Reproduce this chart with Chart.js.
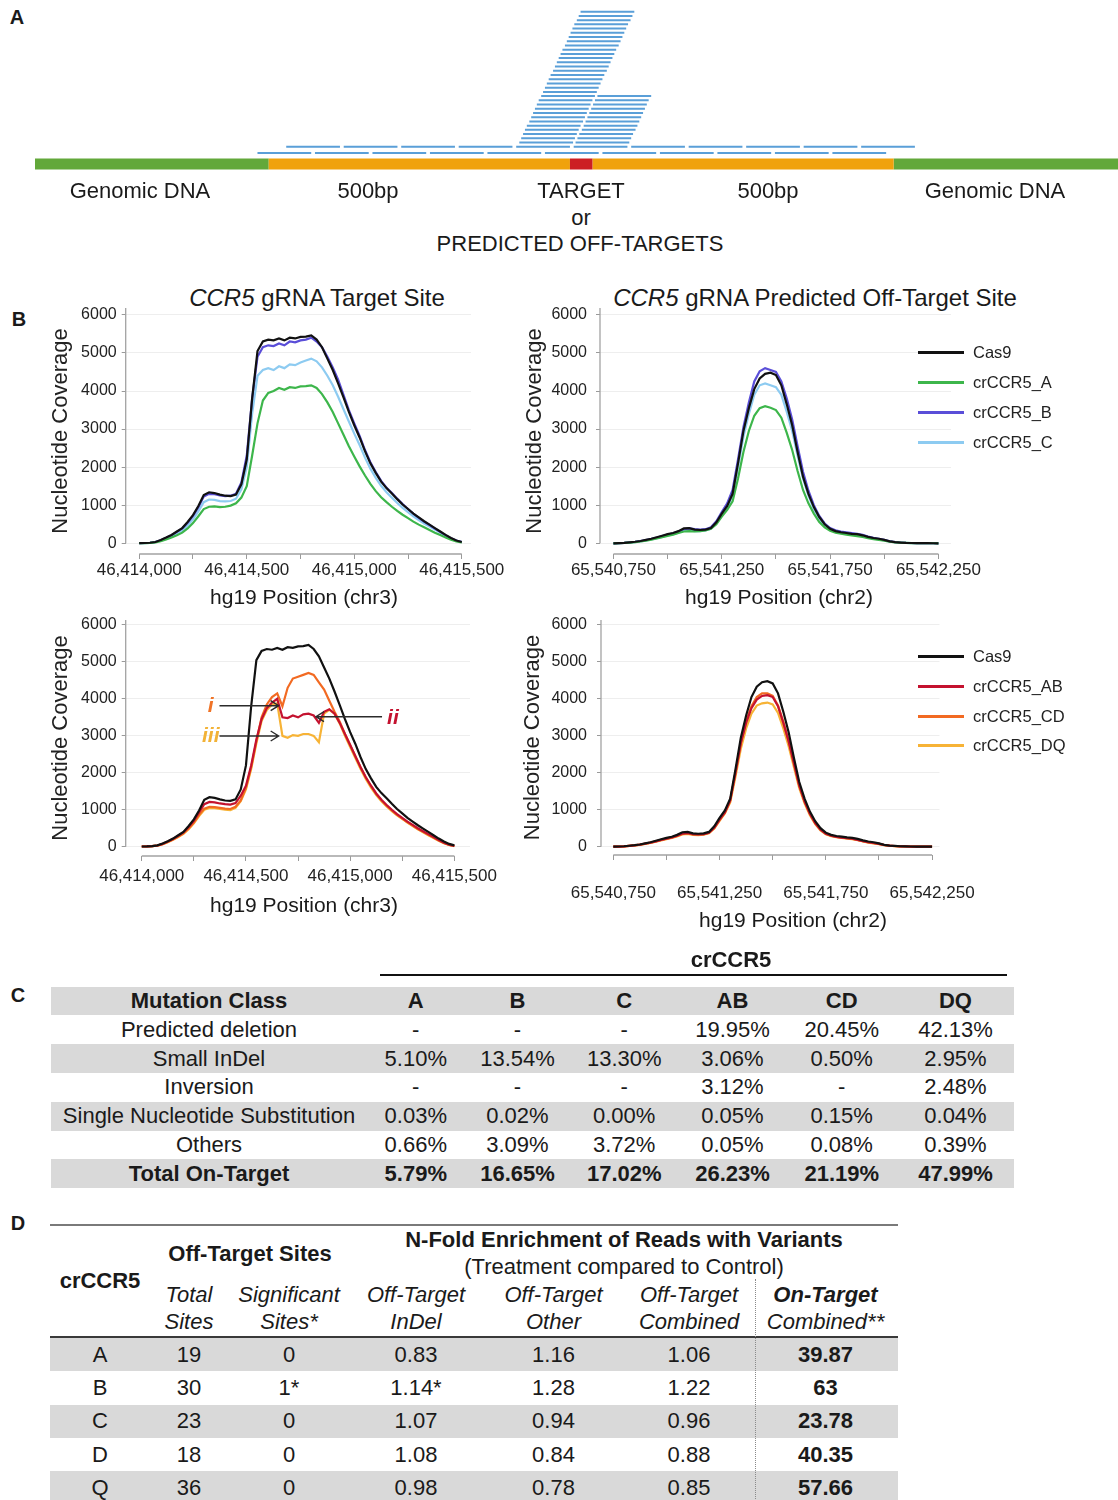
<!DOCTYPE html>
<html>
<head>
<meta charset="utf-8">
<script src="https://cdn.jsdelivr.net/npm/chart.js@4.4.0/dist/chart.umd.min.js"></script>
<style>
  body { margin: 0; background: #fff; }
  #page { position: relative; width: 1118px; height: 1500px; overflow: hidden;
          font-family: "Liberation Sans", Arial, sans-serif; color: #1a1a1a; }
  .abs { position: absolute; }
  .txt { position: absolute; transform: translate(-50%, -50%); white-space: nowrap; }
  .panel { position: absolute; transform: translate(-50%, -50%); font-weight: bold; font-size: 20px; }
  canvas { position: absolute; }
  table { position: absolute; border-collapse: collapse; table-layout: fixed; font-size: 22px; }
  td { padding: 0; text-align: center; white-space: nowrap; vertical-align: middle; }
  .grey { background: #d9d9d9; }
  .legend { position: absolute; font-size: 16.5px; color: #222; }
  .legend div { display: flex; align-items: center; }
  .legend span.sw { display: inline-block; width: 46px; height: 3px; margin-right: 9px; }
</style>
</head>
<body>
<div id="page">
  <!-- panel A -->
  <div class="panel" style="left:17px;top:17px">A</div>
  <canvas id="readsChart" width="1083" height="180" style="left:35px;top:0"></canvas>
  <div class="txt" style="left:140px;top:191px;font-size:22px">Genomic DNA</div>
  <div class="txt" style="left:368px;top:191px;font-size:22px">500bp</div>
  <div class="txt" style="left:581px;top:191px;font-size:22px">TARGET</div>
  <div class="txt" style="left:768px;top:191px;font-size:22px">500bp</div>
  <div class="txt" style="left:995px;top:191px;font-size:22px">Genomic DNA</div>
  <div class="txt" style="left:581px;top:218px;font-size:22px">or</div>
  <div class="txt" style="left:580px;top:244px;font-size:22px">PREDICTED OFF-TARGETS</div>

  <!-- panel B -->
  <div class="panel" style="left:19px;top:319px">B</div>
  <div class="txt" style="left:317px;top:298px;font-size:24px"><i>CCR5</i> gRNA Target Site</div>
  <div class="txt" style="left:815px;top:298px;font-size:24px"><i>CCR5</i> gRNA Predicted Off-Target Site</div>
  <canvas id="targetTop" width="472" height="302" style="left:48px;top:288px"></canvas>
  <canvas id="offTop" width="596" height="302" style="left:522px;top:288px"></canvas>
  <canvas id="targetBottom" width="472" height="300" style="left:48px;top:600px"></canvas>
  <canvas id="offBottom" width="598" height="320" style="left:520px;top:600px"></canvas>
  <div class="txt" style="left:304px;top:597px;font-size:21px">hg19 Position (chr3)</div>
  <div class="txt" style="left:779px;top:597px;font-size:21px">hg19 Position (chr2)</div>
  <div class="txt" style="left:304px;top:905px;font-size:21px">hg19 Position (chr3)</div>
  <div class="txt" style="left:793px;top:920px;font-size:21px">hg19 Position (chr2)</div>
  <div id="legendTop" class="legend" style="left:918px;top:337px"></div>
  <div id="legendBottom" class="legend" style="left:918px;top:642px"></div>

  <!-- panel C -->
  <div class="panel" style="left:18px;top:995px">C</div>
  <div class="txt" style="left:731px;top:960px;font-size:22px;font-weight:bold">crCCR5</div>
  <div class="abs" style="left:380px;top:974px;width:627px;height:2px;background:#111"></div>
  <table id="tableC" style="left:51.4px;top:986.7px;width:962.6px">
    <colgroup>
      <col style="width:315.2px"><col style="width:98.4px"><col style="width:105px">
      <col style="width:108.5px"><col style="width:108px"><col style="width:110.5px"><col style="width:117px">
    </colgroup>
    <tbody></tbody>
  </table>

  <!-- panel D -->
  <div class="panel" style="left:18px;top:1223px">D</div>
  <div class="abs" style="left:50px;top:1224px;width:848px;height:2px;background:#7a7a7a"></div>
  <table id="tableDHead" style="left:50px;top:1226px;width:848px">
    <colgroup>
      <col style="width:100px"><col style="width:78px"><col style="width:122px"><col style="width:132px">
      <col style="width:143px"><col style="width:128px"><col style="width:145px">
    </colgroup>
    <tr style="height:55px">
      <td rowspan="2" style="font-weight:bold">crCCR5</td>
      <td colspan="2" style="font-weight:bold">Off-Target Sites</td>
      <td colspan="4" style="line-height:26.6px"><b>N-Fold Enrichment of Reads with Variants</b><br>(Treatment compared to Control)</td>
    </tr>
    <tr style="height:55px;line-height:26.6px">
      <td><i>Total<br>Sites</i></td>
      <td><i>Significant<br>Sites*</i></td>
      <td><i>Off-Target<br>InDel</i></td>
      <td><i>Off-Target<br>Other</i></td>
      <td><i>Off-Target<br>Combined</i></td>
      <td><b><i>On-Target</i></b><br><i>Combined**</i></td>
    </tr>
  </table>
  <div class="abs" style="left:50px;top:1336px;width:848px;height:2px;background:#3a3a3a"></div>
  <table id="tableD" style="left:50px;top:1338px;width:848px">
    <colgroup>
      <col style="width:100px"><col style="width:78px"><col style="width:122px"><col style="width:132px">
      <col style="width:143px"><col style="width:128px"><col style="width:145px">
    </colgroup>
    <tbody></tbody>
  </table>
  <div class="abs" style="left:755px;top:1279px;width:0;height:230px;border-left:1.5px dotted #8a8a8a"></div>
</div>

<script>
/* ---------- panel A: reads over the target region (bp relative to target) ---------- */
const dnaGenomic = [[-874, -500], [500, 859]];
const dnaFlank = [[-500, -18], [18, 500]];
const dnaTarget = [[-18, 18]];
const readLength = 86;
const lowerTileStarts = [-518, -426, -334, -242, -150, -58, 34, 126, 218, 310, 402];
const upperTileStarts = [-472, -380, -288, -196, -104, -12, 80, 172, 264, 356, 448];
const leftStackStarts = [-99, -96, -93, -90, -87, -83, -80, -77, -74, -71, -68, -64, -61, -58, -55, -52,
  -49, -45, -42, -39, -36, -33, -30, -26, -23, -20, -17, -14, -11, -7, -4, -1];
const rightStackStarts = [-9, -6, -3, 1, 4, 7, 10, 13, 16, 19, 22, 26];

/* ---------- panel B: nucleotide coverage ---------- */
const yTicks = [0, 1000, 2000, 3000, 4000, 5000, 6000];
const chr3Ticks = [46414000, 46414250, 46414500, 46414750, 46415000, 46415250, 46415500];
const chr2Ticks = [65540750, 65541000, 65541250, 65541500, 65541750, 65542000, 65542250];
const chr3Pos = Array.from({ length: 61 }, (_, i) => 46414000 + 25 * i);
const chr2Pos = Array.from({ length: 61 }, (_, i) => 65540750 + 25 * i);

// target site (chr3)
const cas9Target = [5, 8, 15, 35, 85, 150, 220, 310, 400, 560, 740, 980, 1270, 1340, 1320, 1280, 1250, 1240, 1280, 1550,
  2200, 3800, 5050, 5300, 5350, 5330, 5380, 5330, 5400, 5380, 5420, 5430, 5460, 5350, 5150, 4850, 4550, 4200, 3830, 3450,
  3100, 2780, 2420, 2100, 1850, 1620, 1450, 1310, 1160, 1020, 900, 780, 680, 580, 490, 400, 310, 220, 140, 75, 35];
const crATarget = [4, 6, 11, 25, 55, 100, 150, 210, 280, 390, 530, 710, 900, 960, 970, 950, 960, 990, 1050, 1200,
  1500, 2300, 3150, 3750, 3950, 4000, 4080, 4030, 4100, 4080, 4120, 4130, 4150, 4080, 3920, 3700, 3450, 3150, 2850, 2550,
  2280, 2020, 1780, 1560, 1370, 1210, 1080, 960, 850, 750, 660, 570, 490, 420, 350, 280, 215, 150, 95, 50, 20];
const crBTarget = [5, 8, 15, 35, 80, 145, 215, 300, 390, 540, 720, 950, 1230, 1300, 1290, 1260, 1240, 1250, 1300, 1600,
  2300, 3800, 4900, 5150, 5200, 5180, 5250, 5200, 5300, 5280, 5330, 5350, 5400, 5300, 5150, 4900, 4620, 4300, 3900, 3500,
  3150, 2820, 2450, 2130, 1870, 1640, 1460, 1320, 1170, 1030, 900, 780, 670, 570, 480, 390, 300, 210, 130, 70, 30];
const crCTarget = [5, 7, 13, 30, 70, 125, 185, 260, 340, 470, 630, 840, 1080, 1150, 1140, 1110, 1100, 1110, 1170, 1420,
  2000, 3400, 4400, 4550, 4600, 4550, 4650, 4600, 4700, 4680, 4750, 4800, 4850, 4780, 4620, 4400, 4150, 3850, 3520, 3200,
  2880, 2580, 2250, 1960, 1720, 1510, 1340, 1200, 1060, 930, 820, 710, 610, 520, 440, 360, 280, 200, 125, 65, 30];
const crABTarget = [5, 8, 15, 32, 75, 140, 210, 295, 385, 530, 700, 930, 1150, 1210, 1200, 1170, 1150, 1140, 1180, 1380,
  1650, 2200, 2900, 3450, 3750, 3900, 4000, 3500, 3480, 3550, 3500, 3580, 3600, 3550, 3350, 3650, 3720, 3600, 3350, 3050,
  2750, 2450, 2150, 1880, 1650, 1440, 1270, 1130, 1000, 880, 780, 680, 590, 500, 420, 340, 260, 180, 110, 55, 20];
const crCDTarget = [5, 8, 14, 30, 70, 130, 195, 275, 360, 490, 650, 860, 1030, 1080, 1070, 1050, 1030, 1020, 1080, 1250,
  1600, 2150, 2850, 3500, 3850, 4050, 4150, 3800, 4300, 4550, 4600, 4650, 4700, 4650, 4450, 4250, 3950, 3650, 3380, 3050,
  2750, 2450, 2150, 1880, 1640, 1430, 1260, 1110, 980, 860, 760, 660, 570, 480, 400, 320, 245, 170, 100, 50, 18];
const crDQTarget = [5, 8, 13, 28, 65, 120, 185, 260, 345, 470, 630, 830, 1000, 1050, 1040, 1020, 1000, 990, 1050, 1230,
  1550, 2100, 2800, 3400, 3700, 3850, 3880, 3000, 2950, 3020, 3000, 3050, 3050, 3000, 2830, 3600, 3700, 3600, 3330, 3000,
  2700, 2400, 2100, 1830, 1600, 1400, 1230, 1090, 960, 850, 750, 650, 560, 470, 390, 310, 235, 160, 95, 45, 15];

// predicted off-target site (chr2)
const cas9Off = [0, 5, 12, 25, 40, 60, 90, 120, 160, 200, 240, 270, 320, 390, 400, 360, 350, 360, 400, 550,
  780, 980, 1300, 2100, 2950, 3550, 4050, 4330, 4450, 4480, 4420, 4150, 3650, 3100, 2400, 1750, 1300, 950, 690, 500,
  380, 320, 290, 270, 250, 240, 210, 170, 140, 120, 90, 50, 30, 20, 12, 8, 5, 3, 2, 1, 0];
const crAOff = [0, 4, 10, 20, 32, 48, 70, 95, 125, 160, 195, 225, 270, 310, 320, 310, 320, 340, 380, 500,
  700, 880, 1100, 1700, 2400, 2950, 3350, 3550, 3600, 3560, 3500, 3300, 2900, 2450, 1900, 1400, 1050, 780, 560, 420,
  330, 280, 250, 230, 210, 190, 165, 135, 110, 90, 70, 42, 26, 16, 10, 6, 4, 3, 2, 1, 0];
const crBOff = [0, 5, 12, 25, 40, 60, 85, 115, 150, 190, 230, 260, 310, 370, 390, 370, 360, 370, 420, 580,
  820, 1050, 1400, 2200, 3050, 3700, 4250, 4520, 4600, 4550, 4500, 4250, 3800, 3250, 2550, 1880, 1380, 1000, 720, 520,
  400, 340, 310, 290, 270, 250, 220, 180, 145, 120, 90, 55, 32, 20, 12, 8, 5, 3, 2, 1, 0];
const crCOff = [0, 4, 10, 20, 33, 50, 75, 100, 135, 170, 205, 235, 280, 330, 340, 320, 320, 340, 380, 520,
  740, 950, 1250, 2000, 2800, 3400, 3900, 4150, 4200, 4150, 4100, 3900, 3450, 2950, 2300, 1700, 1250, 900, 650, 470,
  360, 300, 270, 250, 235, 220, 190, 155, 125, 100, 75, 45, 28, 18, 11, 7, 4, 3, 2, 1, 0];
const crABOff = [0, 4, 11, 22, 36, 55, 82, 110, 145, 185, 220, 250, 295, 355, 370, 340, 330, 340, 380, 510,
  730, 930, 1250, 2000, 2800, 3350, 3750, 3980, 4080, 4100, 4050, 3800, 3350, 2850, 2250, 1650, 1220, 890, 640, 460,
  350, 295, 265, 245, 230, 215, 185, 150, 120, 100, 75, 45, 28, 18, 11, 7, 4, 3, 2, 1, 0];
const crCDOff = [0, 4, 11, 22, 35, 54, 80, 108, 142, 180, 215, 245, 290, 345, 360, 335, 325, 335, 375, 505,
  720, 920, 1240, 2000, 2820, 3400, 3800, 4050, 4150, 4150, 4080, 3820, 3380, 2870, 2260, 1660, 1230, 890, 640, 460,
  350, 295, 265, 245, 230, 212, 182, 148, 118, 98, 74, 44, 27, 17, 10, 6, 4, 3, 2, 1, 0];
const crDQOff = [0, 4, 10, 20, 33, 50, 75, 100, 135, 170, 205, 235, 280, 330, 345, 320, 315, 325, 365, 490,
  700, 900, 1200, 1900, 2650, 3200, 3600, 3820, 3880, 3900, 3850, 3620, 3200, 2720, 2150, 1580, 1170, 850, 610, 440,
  335, 285, 255, 235, 220, 205, 175, 142, 112, 92, 70, 42, 26, 16, 10, 6, 4, 3, 2, 1, 0];

const seriesColors = {
  Cas9: '#111111', crCCR5_A: '#3db64b', crCCR5_B: '#5a4ed8', crCCR5_C: '#8dcbf1',
  crCCR5_AB: '#c4122f', crCCR5_CD: '#f26a22', crCCR5_DQ: '#f7b336'
};

/* ---------- panel C / D tables ---------- */
const mutationClasses = ['Predicted deletion', 'Small InDel', 'Inversion', 'Single Nucleotide Substitution', 'Others', 'Total On-Target'];
const guideSets = ['A', 'B', 'C', 'AB', 'CD', 'DQ'];
const pctA = [null, 5.10, null, 0.03, 0.66, 5.79];
const pctB = [null, 13.54, null, 0.02, 3.09, 16.65];
const pctC = [null, 13.30, null, 0.00, 3.72, 17.02];
const pctAB = [19.95, 3.06, 3.12, 0.05, 0.05, 26.23];
const pctCD = [20.45, 0.50, null, 0.15, 0.08, 21.19];
const pctDQ = [42.13, 2.95, 2.48, 0.04, 0.39, 47.99];

const dGuides = ['A', 'B', 'C', 'D', 'Q'];
const totalSites = [19, 30, 23, 18, 36];
const significantSites = [0, 1, 0, 0, 0];
const offIndel = [0.83, 1.14, 1.07, 1.08, 0.98];
const offOther = [1.16, 1.28, 0.94, 0.84, 0.78];
const offCombined = [1.06, 1.22, 0.96, 0.88, 0.85];
const onCombined = [39.87, 63, 23.78, 40.35, 57.66];

Chart.defaults.font.family = '"Liberation Sans", Arial, sans-serif';
Chart.defaults.color = '#222';

// --- panel A chart
function segs(pairs, row) {
  const pts = [];
  pairs.forEach(([a, b]) => { pts.push({ x: a, y: row }, { x: b, y: row }, { x: b, y: null }); });
  return pts;
}
const readPts = []
  .concat(segs(lowerTileStarts.map(s => [s, s + readLength]), -1.48))
  .concat(segs(upperTileStarts.map(s => [s, s + readLength]), 0));
leftStackStarts.forEach((s, i) => readPts.push(...segs([[s, s + readLength]], i + 1)));
rightStackStarts.forEach((s, i) => readPts.push(...segs([[s, s + readLength]], i + 1)));

const dnaRow = -4.09;
new Chart(document.getElementById('readsChart'), {
  type: 'line',
  data: {
    datasets: [
      { data: readPts, borderColor: '#5a9fd8', borderWidth: 2 },
      { data: segs(dnaTarget, dnaRow), borderColor: '#cc1f24', borderWidth: 11 },
      { data: segs(dnaFlank, dnaRow), borderColor: '#f0a20c', borderWidth: 11 },
      { data: segs(dnaGenomic, dnaRow), borderColor: '#62a83a', borderWidth: 11 }
    ]
  },
  options: {
    responsive: false, animation: false, events: [],
    layout: { padding: 0 },
    plugins: { legend: { display: false }, tooltip: { enabled: false } },
    elements: { point: { radius: 0 }, line: { tension: 0, borderCapStyle: 'butt' } },
    scales: {
      x: { type: 'linear', display: false, min: -874, max: 859 },
      y: { type: 'linear', display: false, min: -7.88, max: 34.77 }
    }
  }
});

// --- panel B charts
const coverageAxes = {
  id: 'coverageAxes',
  beforeDatasetsDraw(chart) {
    const { ctx, chartArea, scales: { x, y } } = chart;
    const t = x.ticks;
    ctx.save();
    ctx.strokeStyle = '#a3a3a3';
    ctx.lineWidth = 1.3;
    ctx.beginPath();
    ctx.moveTo(chartArea.left, chartArea.top);
    ctx.lineTo(chartArea.left, y.getPixelForValue(0));
    ctx.moveTo(x.getPixelForValue(t[0].value), chartArea.bottom);
    ctx.lineTo(x.getPixelForValue(t[t.length - 1].value), chartArea.bottom);
    ctx.stroke();
    ctx.restore();
  }
};

const arrowNotes = {
  id: 'arrowNotes',
  afterDatasetsDraw(chart, args, opts) {
    const { ctx, scales: { x, y } } = chart;
    (opts.items || []).forEach(n => {
      const x1 = x.getPixelForValue(n.from), x2 = x.getPixelForValue(n.to), yy = y.getPixelForValue(n.y);
      const d = Math.sign(x2 - x1);
      ctx.save();
      ctx.strokeStyle = '#2b2b2b';
      ctx.lineWidth = 1.4;
      ctx.beginPath();
      ctx.moveTo(x1, yy); ctx.lineTo(x2, yy);
      ctx.moveTo(x2 - d * 8, yy - 5); ctx.lineTo(x2, yy); ctx.lineTo(x2 - d * 8, yy + 5);
      ctx.stroke();
      ctx.font = 'italic bold 21px "Liberation Sans", Arial, sans-serif';
      ctx.fillStyle = n.color;
      ctx.textAlign = 'center';
      ctx.textBaseline = 'middle';
      ctx.fillText(n.text, x.getPixelForValue(n.tx), y.getPixelForValue(n.ty));
      ctx.restore();
    });
  }
};

function coverageChart(id, c) {
  return new Chart(document.getElementById(id), {
    type: 'line',
    data: {
      datasets: c.series.map(([label, values]) => ({
        label,
        data: c.positions.map((p, i) => ({ x: p, y: values[i] })),
        borderColor: seriesColors[label],
        backgroundColor: seriesColors[label],
        borderWidth: 2.2, pointRadius: 0, tension: 0, fill: false
      }))
    },
    plugins: [coverageAxes, arrowNotes],
    options: {
      responsive: false, animation: false, events: [],
      layout: { padding: { top: 20, right: c.padRight, bottom: 0, left: 0 } },
      plugins: {
        legend: { display: false }, tooltip: { enabled: false },
        arrowNotes: { items: c.notes || [] }
      },
      scales: {
        x: {
          type: 'linear', min: c.xMin, max: c.xMax,
          afterBuildTicks: s => { s.ticks = c.xTicks.map(v => ({ value: v })); },
          afterFit: s => { s.height = c.xHeight; },
          border: { display: false },
          grid: { drawOnChartArea: false, drawTicks: true, tickLength: 5, tickColor: '#9a9a9a' },
          ticks: {
            autoSkip: false, maxRotation: 0, padding: c.xPad, font: { size: 17 },
            callback: (v, i) => (i % 2 === 0 ? Number(v).toLocaleString('en-US') : '')
          }
        },
        y: {
          type: 'linear', min: c.yMin, max: c.yMax,
          afterBuildTicks: s => { s.ticks = yTicks.map(v => ({ value: v })); },
          afterFit: s => { s.width = c.yWidth; },
          border: { display: false },
          grid: { color: '#eeeeee', tickLength: 4, tickColor: '#9a9a9a' },
          ticks: { padding: c.yPad, font: { size: 16 }, callback: v => String(v) },
          title: { display: true, text: 'Nucleotide Coverage', font: { size: 22 }, padding: 0 }
        }
      }
    }
  });
}

coverageChart('targetTop', {
  positions: chr3Pos, xTicks: chr3Ticks, xMin: 46413937, xMax: 46415543,
  yMin: -281, yMax: 6180, yWidth: 77.7, padRight: 49, xHeight: 36, xPad: 1, yPad: 5,
  series: [['Cas9', cas9Target], ['crCCR5_A', crATarget], ['crCCR5_B', crBTarget], ['crCCR5_C', crCTarget]]
});
const offTopChart = coverageChart('offTop', {
  positions: chr2Pos, xTicks: chr2Ticks, xMin: 65540688, xMax: 65542308,
  yMin: -281, yMax: 6180, yWidth: 78, padRight: 167, xHeight: 36, xPad: 1, yPad: 9,
  series: [['Cas9', cas9Off], ['crCCR5_A', crAOff], ['crCCR5_B', crBOff], ['crCCR5_C', crCOff]]
});
coverageChart('targetBottom', {
  positions: chr3Pos, xTicks: chr3Ticks, xMin: 46413923, xMax: 46415575,
  yMin: -252, yMax: 6135, yWidth: 77.7, padRight: 50, xHeight: 44, xPad: 5, yPad: 5,
  series: [['Cas9', cas9Target], ['crCCR5_AB', crABTarget], ['crCCR5_CD', crCDTarget], ['crCCR5_DQ', crDQTarget]],
  notes: [
    { text: 'i', color: '#f07326', tx: 46414331, ty: 3800, from: 46414373, to: 46414657, y: 3816 },
    { text: 'ii', color: '#c4122f', tx: 46415205, ty: 3475, from: 46415153, to: 46414836, y: 3518 },
    { text: 'iii', color: '#f2b236', tx: 46414331, ty: 2977, from: 46414373, to: 46414657, y: 2996 }
  ]
});
const offBottomChart = coverageChart('offBottom', {
  positions: chr2Pos, xTicks: chr2Ticks, xMin: 65540692, xMax: 65542285,
  yMin: -225, yMax: 6135, yWidth: 81, padRight: 178.5, xHeight: 65, xPad: 23, yPad: 10,
  series: [['Cas9', cas9Off], ['crCCR5_AB', crABOff], ['crCCR5_CD', crCDOff], ['crCCR5_DQ', crDQOff]]
});

function buildLegend(el, chart, rowH) {
  chart.data.datasets.forEach(ds => {
    const row = document.createElement('div');
    row.style.height = rowH + 'px';
    row.innerHTML = '<span class="sw" style="background:' + ds.borderColor + '"></span><span>' + ds.label + '</span>';
    el.appendChild(row);
  });
}
buildLegend(document.getElementById('legendTop'), offTopChart, 30);
buildLegend(document.getElementById('legendBottom'), offBottomChart, 29.7);

// --- table C
const pctCols = [pctA, pctB, pctC, pctAB, pctCD, pctDQ];
const tbodyC = document.querySelector('#tableC tbody');
function addRow(tbody, cells, h, cls, bold) {
  const tr = document.createElement('tr');
  tr.style.height = h + 'px';
  if (cls) tr.className = cls;
  cells.forEach(t => {
    const td = document.createElement('td');
    td.innerHTML = t;
    if (bold) td.style.fontWeight = 'bold';
    tr.appendChild(td);
  });
  tbody.appendChild(tr);
  return tr;
}
addRow(tbodyC, ['Mutation Class'].concat(guideSets), 28.8, 'grey', true);
mutationClasses.forEach((m, r) => {
  const cells = [m].concat(pctCols.map(col => (col[r] === null ? '-' : col[r].toFixed(2) + '%')));
  addRow(tbodyC, cells, 28.8, r % 2 === 1 ? 'grey' : '', r === mutationClasses.length - 1);
});

// --- table D
const tbodyD = document.querySelector('#tableD tbody');
dGuides.forEach((g, r) => {
  const star = significantSites[r] > 0 ? '*' : '';
  const tr = addRow(tbodyD, [
    g, String(totalSites[r]), significantSites[r] + star, offIndel[r].toFixed(2) + star,
    offOther[r].toFixed(2), offCombined[r].toFixed(2), String(onCombined[r])
  ], 33.3, r % 2 === 0 ? 'grey' : '', false);
  tr.lastChild.style.fontWeight = 'bold';
});
</script>
</body>
</html>
